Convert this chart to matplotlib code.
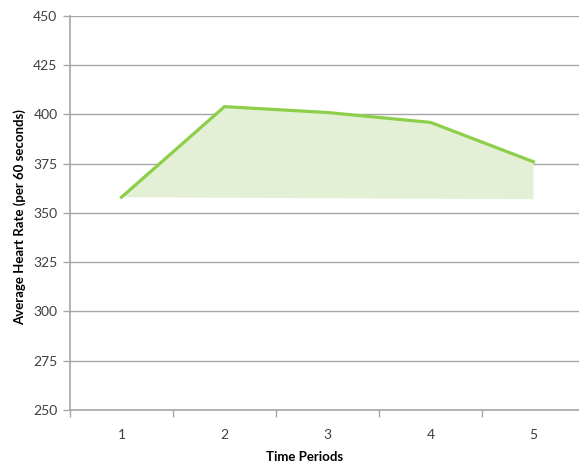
import matplotlib
matplotlib.use("Agg")
import matplotlib.pyplot as plt

# Heart rate readings per time period
periods = [1, 2, 3, 4, 5]
avg_heart_rate = [358, 404, 401, 396, 376]
# lower edge of the shaded band at the first and last period
band_floor = [358, 357]
y_ticks = [250, 275, 300, 325, 350, 375, 400, 425, 450]

line_green = "#8DCF4B"
fill_green = "#E3F0D5"
grid_grey = "#A6A6A6"
text_col = "#404040"

plt.rcParams["font.family"] = ["Lato", "DejaVu Sans"]

fig = plt.figure(figsize=(5.79, 4.67), dpi=100)
ax = fig.add_axes([70 / 579, 57 / 467, 515 / 579, 394 / 467])

# shaded area between the line and the floor
poly_x = periods + [periods[-1], periods[0]]
poly_y = avg_heart_rate + [band_floor[1], band_floor[0]]
ax.fill(poly_x, poly_y, color=fill_green, lw=0, zorder=2)
ax.plot(periods, avg_heart_rate, color=line_green, lw=2.3,
        solid_joinstyle="miter", zorder=3)

ax.set_xlim(0.5, 5.5)
ax.set_ylim(250, 450)
ax.set_yticks(y_ticks)
ax.set_yticklabels([str(t) for t in y_ticks])
ax.set_xticks(periods)
ax.set_xticklabels([str(p) for p in periods])
ax.set_xticks([0.5 + i for i in range(6)], minor=True)

ax.grid(axis="y", color=grid_grey, lw=1.0, zorder=1)
ax.tick_params(axis="y", length=5, width=1, color=grid_grey, direction="out",
               labelsize=10, labelcolor=text_col, pad=4)
ax.tick_params(axis="x", which="major", length=0, labelsize=10,
               labelcolor=text_col, pad=14)
ax.tick_params(axis="x", which="minor", length=5, width=1, color=grid_grey,
               direction="out")

for side in ["top", "right"]:
    ax.spines[side].set_visible(False)
for side in ["left", "bottom"]:
    ax.spines[side].set_color(grid_grey)
    ax.spines[side].set_linewidth(1.2)

fig.text(305 / 579, 1 - 457 / 467, "Time Periods", ha="center", va="center",
         fontsize=9.5, fontweight="bold", color="black")
fig.text(20 / 579, 1 - 217 / 467, "Average Heart Rate (per 60 seconds)",
         ha="center", va="center", rotation=90, fontsize=9.5,
         fontweight="bold", color="black")

fig.savefig("out.png", dpi=100)
